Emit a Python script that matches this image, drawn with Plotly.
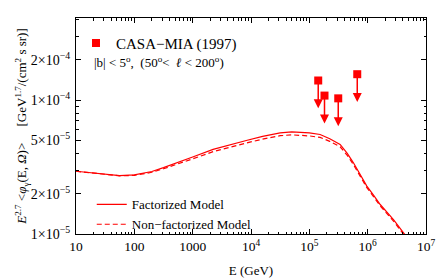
import numpy as np
import plotly.graph_objects as go

# ---- data ----
energy_gev = [10, 20, 32, 56, 100, 200, 316, 600, 1000, 2240, 3980, 8300, 15800,
              31600, 50100, 79400, 100000, 153000, 224000, 337000, 447000, 570000,
              741000, 968000, 1260000, 1640000, 2770000, 4120000, 6310000]
factorized = [2.94e-5, 2.84e-5, 2.78e-5, 2.73e-5, 2.76e-5, 2.93e-5, 3.13e-5, 3.49e-5,
              3.76e-5, 4.28e-5, 4.60e-5, 4.99e-5, 5.35e-5, 5.69e-5, 5.78e-5, 5.75e-5,
              5.68e-5, 5.53e-5, 5.15e-5, 4.66e-5, 4.00e-5, 3.40e-5, 2.80e-5, 2.28e-5,
              1.95e-5, 1.66e-5, 1.28e-5, 1.02e-5, 8.0e-6]
non_factorized = [2.94e-5, 2.84e-5, 2.78e-5, 2.72e-5, 2.74e-5, 2.89e-5, 3.07e-5, 3.40e-5,
                  3.64e-5, 4.12e-5, 4.42e-5, 4.78e-5, 5.11e-5, 5.42e-5, 5.50e-5, 5.47e-5,
                  5.40e-5, 5.26e-5, 4.92e-5, 4.48e-5, 3.86e-5, 3.30e-5, 2.72e-5, 2.22e-5,
                  1.90e-5, 1.62e-5, 1.25e-5, 0.995e-5, 7.8e-6]

casa_energy = [1.42e5, 1.82e5, 3.13e5, 6.63e5]
casa_limit = [1.40e-4, 1.08e-4, 1.03e-4, 1.56e-4]

x_tickvals = [10, 100, 1000, 1e4, 1e5, 1e6, 1e7]
x_ticktext = ["10", "100", "1000", "10<sup>4</sup>", "10<sup>5</sup>", "10<sup>6</sup>", "10<sup>7</sup>"]
y_tickvals = [1e-5, 2e-5, 5e-5, 1e-4, 2e-4]
y_ticktext = ["1×10<sup>−5</sup>", "2×10<sup>−5</sup>", "5×10<sup>−5</sup>",
              "1×10<sup>−4</sup>", "2×10<sup>−4</sup>"]

RED = "#ff0000"
FONT = "Liberation Serif"
arrow_factor = 0.62

fig = go.Figure()
fig.add_trace(go.Scatter(x=energy_gev, y=factorized, mode="lines", name="Factorized Model",
                         line=dict(color=RED, width=1.2), legend="legend"))
fig.add_trace(go.Scatter(x=energy_gev, y=non_factorized, mode="lines", name="Non−factorized Model",
                         line=dict(color=RED, width=1.2, dash="5px,3px"), legend="legend"))
fig.add_trace(go.Scatter(x=casa_energy, y=casa_limit, mode="markers", name="CASA−MIA (1997)",
                         marker=dict(symbol="square", size=8, color=RED), legend="legend2"))

for e, f in zip(casa_energy, casa_limit):
    fig.add_annotation(x=np.log10(e), y=np.log10(f * arrow_factor),
                       ax=np.log10(e), ay=np.log10(f), axref="x", ayref="y",
                       xref="x", yref="y", showarrow=True, arrowhead=2, arrowsize=1.2,
                       arrowwidth=1.5, arrowcolor=RED, text="", standoff=0, startstandoff=0)

fig.add_annotation(xref="paper", yref="paper", x=0.045, y=0.795, xanchor="left", yanchor="middle",
                   text="|b| &lt; 5<sup>o</sup>,\u00a0\u00a0(50<sup>o</sup>&lt;\u00a0 <i>ℓ</i> &lt; 200<sup>o</sup>)",
                   showarrow=False, font=dict(family=FONT, size=13, color="black"))

axis_common = dict(type="log", showline=True, linecolor="black", linewidth=1, mirror="allticks",
                   ticks="inside", ticklen=5, tickcolor="black", showgrid=False, zeroline=False,
                   automargin=False,
                   minor=dict(ticks="inside", ticklen=2.5, tickcolor="black", dtick="D1", showgrid=False))

fig.update_xaxes(**axis_common, range=[1, 7], tickvals=x_tickvals, ticktext=x_ticktext,
                 tickfont=dict(family=FONT, size=13.5, color="black"),
                 title=dict(text="E (GeV)", font=dict(family=FONT, size=13, color="black"), standoff=12))
fig.update_yaxes(**axis_common, range=[-5, np.log10(4.1e-4)], tickvals=y_tickvals, ticktext=y_ticktext,
                 tickfont=dict(family=FONT, size=14, color="black"), ticklabelstandoff=2,
                 title=dict(text="<i>E</i><sup>2.7</sup> &lt;<i>φ</i><sub>γ</sub>(E, <i>Ω</i>)&gt;\u00a0\u00a0\u00a0\u00a0\u00a0[GeV<sup>1.7</sup>/(cm<sup>2</sup> s sr)]",
                            font=dict(family=FONT, size=13, color="black"), standoff=0))

fig.update_layout(
    width=436, height=279,
    margin=dict(l=76, r=10, t=18, b=45),
    plot_bgcolor="white", paper_bgcolor="white",
    font=dict(family=FONT, color="black"),
    legend=dict(x=0.045, y=-0.025, xanchor="left", yanchor="bottom", bgcolor="rgba(0,0,0,0)",
                font=dict(family=FONT, size=13), itemwidth=30, tracegroupgap=0),
    legend2=dict(x=0.0, y=0.96, xanchor="left", yanchor="top", bgcolor="rgba(0,0,0,0)",
                 font=dict(family=FONT, size=15), itemwidth=30),
)

fig.write_html("out.html", config={"displayModeBar": False},
               post_script="document.body.style.margin='0';document.body.style.overflow='hidden';")
